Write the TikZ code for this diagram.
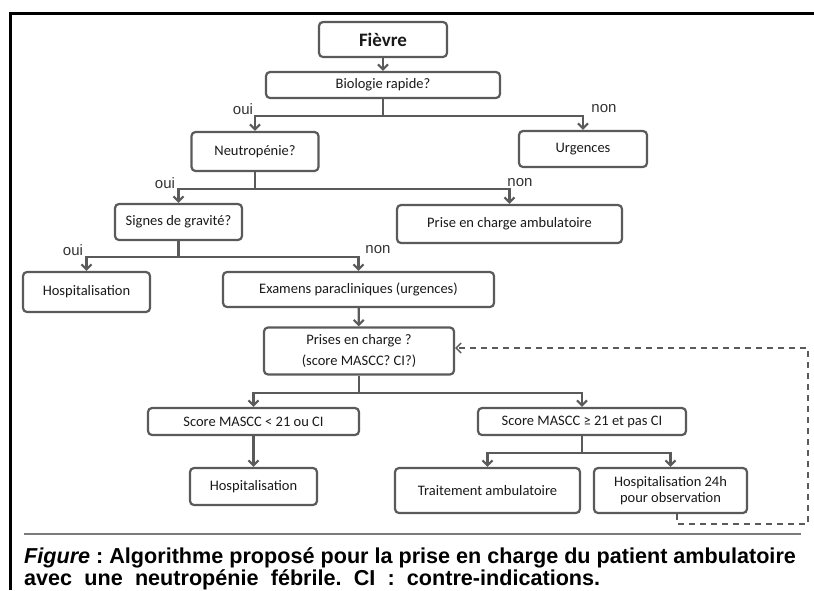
\documentclass[tikz,border=0pt]{standalone}
\usepackage{fontspec}
\setmainfont{Carlito}
\newfontfamily\arialfont{Liberation Sans}
\usepackage{tikz}
\usetikzlibrary{arrows.meta, positioning, calc}
\definecolor{boxgray}{HTML}{5A5A5A}
\definecolor{rulegray}{HTML}{7A7A7A}
\tikzset{
  box/.style={draw=boxgray, line width=2.2pt, rounded corners=4pt, inner sep=0pt,
    align=center, text=black!90, font=\fontsize{14.5}{17}\selectfont},
  arr/.style={draw=boxgray, line width=2.2pt, -{Straight Barb[length=5pt,width=10pt]}},
  yesno/.style={font=\arialfont\fontsize{15}{17}\selectfont, text=black!80, inner sep=0pt},
  loopline/.style={draw=boxgray, line width=1.4pt, dash pattern=on 6pt off 5pt,
    -{Straight Barb[length=5pt,width=10pt]}},
}
\frenchspacing

\begin{document}
\begin{tikzpicture}[x=1pt, y=-1pt]
			\useasboundingbox (0,0) rectangle (814,590);
			% frame
			\draw[line width=3pt] (10,590) -- (10,13) -- (814,13);
			% boxes
			\node[box, minimum width=128pt, minimum height=35pt, font=\fontsize{19}{21}\selectfont\bfseries] (fievre) at (383,39.5) {Fièvre};
			\node[box, minimum width=234pt, minimum height=26pt] (bio) at (383,85) {Biologie rapide?};
			\node[box, minimum width=127pt, minimum height=39pt] (neutro) at (255,151.5) {Neutropénie?};
			\node[box, minimum width=128pt, minimum height=36pt] (urg) at (583,149) {Urgences};
			\node[box, minimum width=127pt, minimum height=36pt] (signes) at (178.5,222) {Signes de gravité?};
			\node[box, minimum width=225pt, minimum height=38pt] (pca) at (509.5,224) {Prise en charge ambulatoire};
			\node[box, minimum width=127pt, minimum height=40pt] (hosp1) at (86.5,292) {Hospitalisation};
			\node[box, minimum width=271pt, minimum height=35pt] (exam) at (358.5,289.5) {Examens paracliniques (urgences)};
			\node[box, minimum width=190pt, minimum height=47pt, font=\fontsize{14.5}{21}\selectfont] (prises) at (359,351) {Prises en charge ?\\(score MASCC? CI?)};
			\node[box, minimum width=211pt, minimum height=27pt] (scoreA) at (253.5,421.5) {Score MASCC < 21 ou CI};
			\node[box, minimum width=208pt, minimum height=27pt] (scoreB) at (582,421.5) {Score MASCC ≥ 21 et pas CI};
			\node[box, minimum width=127pt, minimum height=37pt] (hosp2) at (253.5,486.5) {Hospitalisation};
			\node[box, minimum width=185pt, minimum height=45pt] (trait) at (487.5,490.5) {Traitement ambulatoire};
			\node[box, minimum width=153pt, minimum height=45pt, font=\fontsize{14.5}{15.5}\selectfont] (hosp24) at (670.5,490.5) {Hospitalisation 24h\\pour observation};
			% connectors
			\draw[arr] (fievre) -- (bio);
			\draw[arr] (bio.south) -- ++(0,17) -| (neutro.north);
			\draw[arr] (bio.south) -- ++(0,17) -| (urg.north);
			\draw[arr] (neutro.south) -- ++(0,17) -| (signes.north);
			\draw[arr] (neutro.south) -- ++(0,17) -| (pca.north);
			\draw[arr] (signes.south) -- ++(0,16) -| (hosp1.north);
			\draw[arr] (signes.south) -- ++(0,16) -| (exam.north);
			\draw[arr] (exam) -- (prises);
			\draw[arr] (prises.south) -- ++(0,17) -| (scoreA.north);
			\draw[arr] (prises.south) -- ++(0,17) -| (scoreB.north);
			\draw[arr] (scoreA) -- (hosp2);
			\draw[arr] (scoreB.south) -- ++(0,17) -| (trait.north);
			\draw[arr] (scoreB.south) -- ++(0,17) -| (hosp24.north);
			% oui / non
			\node[yesno] (oui1) at (243,109) {oui};
			\node[yesno] (non1) at (604,109) {non};
			\node[yesno] (oui2) at (165,183) {oui};
			\node[yesno] (non2) at (520,183) {non};
			\node[yesno] (oui3) at (73,250) {oui};
			\node[yesno] (non3) at (378,250) {non};
			% dashed loop back
			\coordinate (loopA) at (677,524);
			\coordinate (loopB) at (808,524);
			\coordinate (loopC) at (808,348);
			\draw[loopline] (hosp24.south -| loopA) -- (loopA) -- (loopB) -- (loopC) -- (prises.east |- loopC);
			% caption
			\draw[rulegray, line width=2pt] (24,534) -- (801,534);
			\node[anchor=base west, inner sep=0pt, font=\arialfont\bfseries\fontsize{21.6}{24}\selectfont] (cap1) at (24,563)
			  {\textit{Figure} : Algorithme proposé pour la prise en charge du patient ambulatoire};
			\node[anchor=base west, inner sep=0pt, font=\arialfont\bfseries\fontsize{21.6}{24}\selectfont] (cap2) at (24,585)
			  {\makebox[576pt][s]{avec une neutropénie fébrile. CI : contre-indications.}};
		\end{tikzpicture}
\end{document}
